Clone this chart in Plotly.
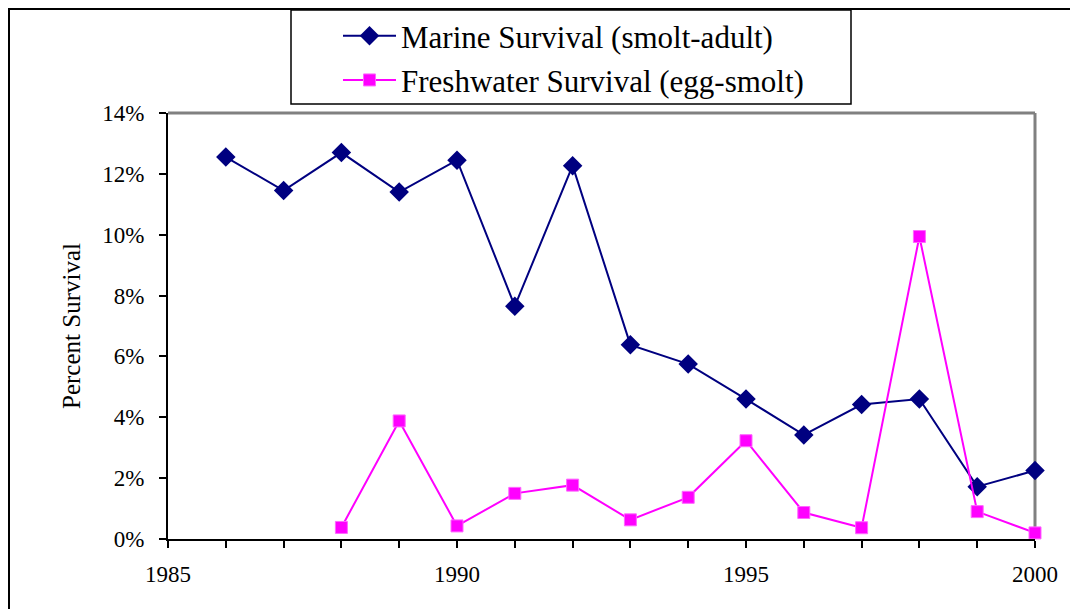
import plotly.graph_objects as go

years = list(range(1986, 2001))
marine = [12.55, 11.45, 12.7, 11.4, 12.45, 7.65, 12.27, 6.38, 5.75, 4.6, 3.42, 4.42, 4.6, 1.72, 2.25]
fresh_years = list(range(1988, 2001))
fresh = [0.38, 3.88, 0.43, 1.5, 1.77, 0.63, 1.37, 3.23, 0.87, 0.37, 9.94, 0.9, 0.2]

x_tickvals = list(range(1985, 2001))
x_ticktext = [str(y) if y % 5 == 0 else "" for y in x_tickvals]
y_tickvals = [0, 2, 4, 6, 8, 10, 12, 14]
y_ticktext = [f"{v}%" for v in y_tickvals]

FONT = "Liberation Serif"
W, H = 1078, 609
# plot area in figure pixel coordinates
L, R, T, B = 160, 1027, 105, 531


def px(xp):
    return (xp - L) / (R - L)


def py(yp):
    return (B - yp) / (B - T)


fig = go.Figure()
fig.add_trace(go.Scatter(
    x=years, y=marine, mode="lines+markers", name="Marine Survival (smolt-adult)",
    line=dict(color="#000080", width=2),
    marker=dict(symbol="diamond", size=15, color="#000080"),
    cliponaxis=False, legendgroup="a",
))
fig.add_trace(go.Scatter(
    x=fresh_years, y=fresh, mode="lines+markers", name="Freshwater Survival (egg-smolt)",
    line=dict(color="#FF00FF", width=2),
    marker=dict(symbol="square", size=12, color="#FF00FF",
                line=dict(color="#FF66FF", width=1)),
    cliponaxis=False, legendgroup="b",
))

shapes = [
    dict(type="rect", xref="paper", yref="paper",
         x0=px(1), x1=px(1100), y0=py(640), y1=py(1),
         line=dict(color="black", width=2), fillcolor="rgba(0,0,0,0)", layer="below"),
    dict(type="rect", xref="paper", yref="paper",
         x0=px(283), x1=px(843), y0=py(96), y1=py(2),
         line=dict(color="black", width=1.5), fillcolor="white", layer="below"),
    dict(type="line", xref="paper", yref="paper", x0=0, x1=1, y0=1, y1=1,
         line=dict(color="#808080", width=3), layer="below"),
    dict(type="line", xref="paper", yref="paper", x0=1, x1=1, y0=0, y1=1,
         line=dict(color="#808080", width=3), layer="below"),
]

axis_font = dict(family=FONT, size=23, color="black")

fig.update_layout(
    width=W, height=H,
    margin=dict(l=L, r=W - R, t=T, b=H - B, pad=0, autoexpand=False),
    paper_bgcolor="white", plot_bgcolor="white",
    font=dict(family=FONT, color="black", size=23),
    showlegend=True,
    legend=dict(
        x=px(330), y=py(1), xanchor="left", yanchor="top",
        font=dict(family=FONT, size=31, color="black"),
        bgcolor="rgba(0,0,0,0)", borderwidth=0,
        tracegroupgap=1, itemwidth=53,
    ),
    shapes=shapes,
    xaxis=dict(
        range=[1985, 2000], tickmode="array", tickvals=x_tickvals, ticktext=x_ticktext,
        showline=True, linecolor="black", linewidth=2,
        ticks="outside", ticklen=7, tickwidth=2, tickcolor="black",
        showgrid=False, zeroline=False, tickfont=axis_font, ticklabelstandoff=6,
    ),
    yaxis=dict(
        range=[0, 14], tickmode="array", tickvals=y_tickvals, ticktext=y_ticktext,
        showline=True, linecolor="black", linewidth=2,
        ticks="outside", ticklen=7, tickwidth=2, tickcolor="black",
        showgrid=False, zeroline=False, tickfont=axis_font, ticklabelstandoff=10,
        title=dict(text="Percent Survival", font=dict(family=FONT, size=25, color="black"),
                   standoff=14),
    ),
)

fig.write_html("out.html")
